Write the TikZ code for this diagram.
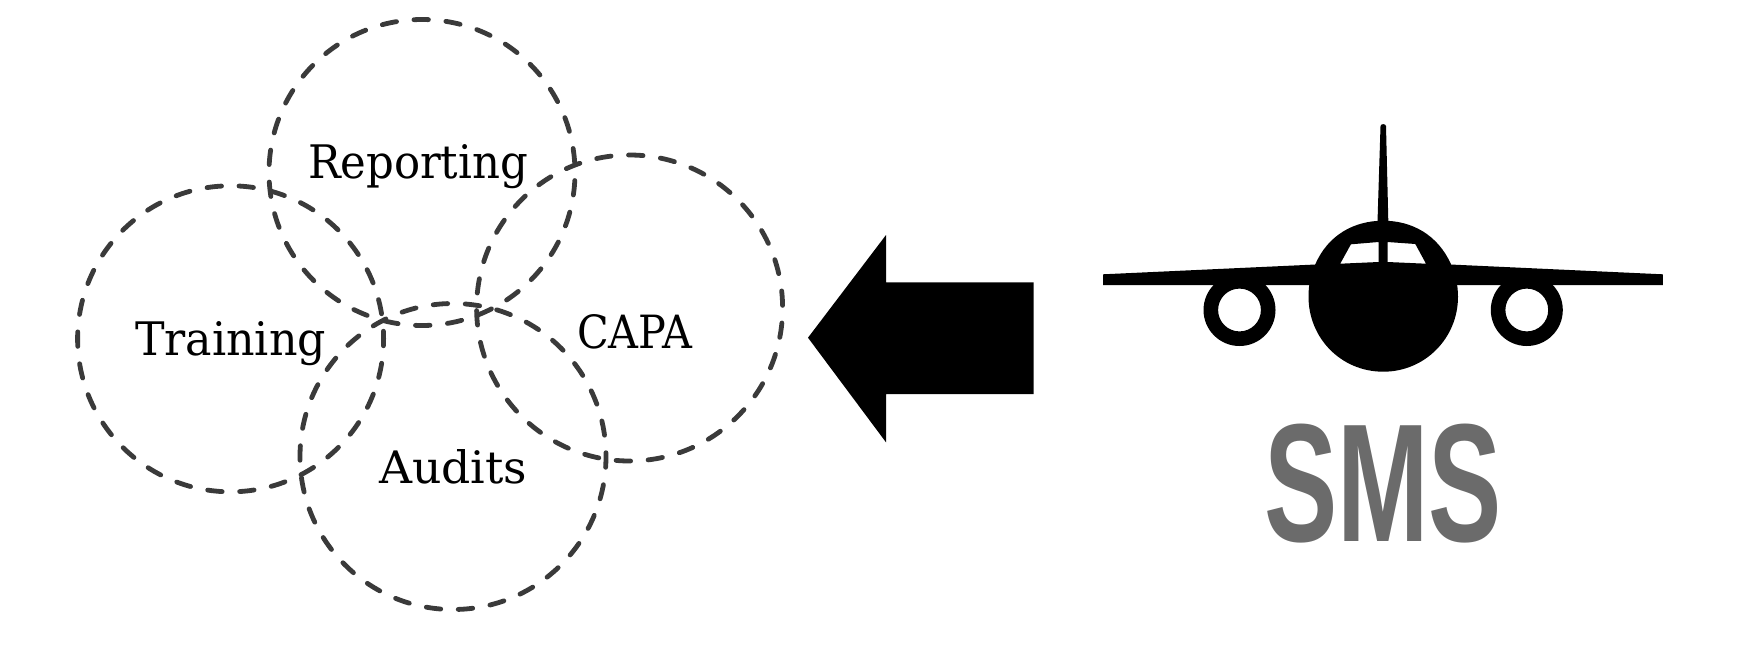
\documentclass[tikz,border=0pt]{standalone}
\usepackage{fontspec}
\usepackage{graphicx}
\setmainfont{DejaVu Serif Condensed}
\newfontfamily\smsfont{Liberation Sans}[BoldFont={Liberation Sans Bold}]
\definecolor{ringc}{HTML}{3A3A3A}
\definecolor{smsc}{HTML}{6B6B6B}
\newcommand{\fitlabel}[3]{\resizebox{#1pt}{#2pt}{\fontsize{45}{50}\selectfont #3}}
\tikzset{
  ring/.style={draw=ringc,line width=4.8pt,line cap=round},
  lab/.style={anchor=base west,inner sep=0pt,outer sep=0pt,text=black},
  solidblack/.style={fill=black,draw=none}
}
\begin{document}
\begin{tikzpicture}[x=1pt,y=-1pt]
\useasboundingbox (0,0) rectangle (1756,646);
% rings
\draw[ring,dash pattern=on 14.5pt off 17.544pt,dash phase=24pt] (422,172.5) circle[radius=153];
\draw[ring,dash pattern=on 14.5pt off 17.544pt,dash phase=7.5pt] (230.6,338.8) circle[radius=153];
\draw[ring,dash pattern=on 14.5pt off 17.544pt,dash phase=17pt] (629.6,308) circle[radius=153];
\draw[ring,dash pattern=on 14.5pt off 17.544pt,dash phase=3.7pt] (453,456.5) circle[radius=153];
% labels
\node[lab] (reporting) at (308,178) {\fitlabel{220}{34}{Reporting}};
\node[lab] (training) at (135,355) {\fitlabel{191}{34}{Training}};
\node[lab] (capa) at (577,348) {\fitlabel{115}{34}{CAPA}};
\node[lab] (audits) at (379,483) {\fitlabel{148}{34}{Audits}};
% arrow
\fill[solidblack] (808,337.7) -- (886,235) -- (886,282.3) -- (1033.6,282.3) -- (1033.6,394) -- (886,394) -- (886,442.3) -- cycle;
% engines
\fill[solidblack,even odd rule] (1239.5,310) circle[radius=36] (1239.5,310) circle[radius=21.4];
\fill[solidblack,even odd rule] (1526.8,310) circle[radius=36] (1526.8,310) circle[radius=21.4];
% wing
\fill[solidblack] (1103,274.3) -- (1320,264.3) -- (1446,264.3) -- (1662.8,274.3) -- (1662.8,285) -- (1103,285) -- cycle;
% tail
\fill[solidblack] (1377.4,225) -- (1380.5,126) .. controls (1381,123.5) and (1385.5,123.5) .. (1386,126) -- (1388.4,225) -- cycle;
% fuselage with windows
\fill[solidblack,even odd rule]
  (1383.3,220.7) .. controls (1412,220.7) and (1438,235) .. (1451,264.3)
  .. controls (1455,273) and (1458,284) .. (1458,296.7)
  .. controls (1458,338) and (1425,371.7) .. (1383.3,371.7)
  .. controls (1341,371.7) and (1308.5,338) .. (1308.5,296.7)
  .. controls (1308.5,284) and (1311,273) .. (1315.3,264.3)
  .. controls (1328,235) and (1354,220.7) .. (1383.3,220.7) -- cycle
  (1350.9,244.3) -- (1378.5,242) -- (1378.5,262) -- (1340.2,263.7) -- cycle
  (1387.6,242) -- (1415.3,244) -- (1426,263.7) -- (1387.6,262) -- cycle;
% SMS
\node[anchor=base west,inner sep=0pt,outer sep=0pt,text=smsc] (sms) at (1264,541) {\resizebox{238pt}{117.5pt}{\smsfont\bfseries\fontsize{160}{170}\selectfont SMS}};
\end{tikzpicture}
\end{document}
